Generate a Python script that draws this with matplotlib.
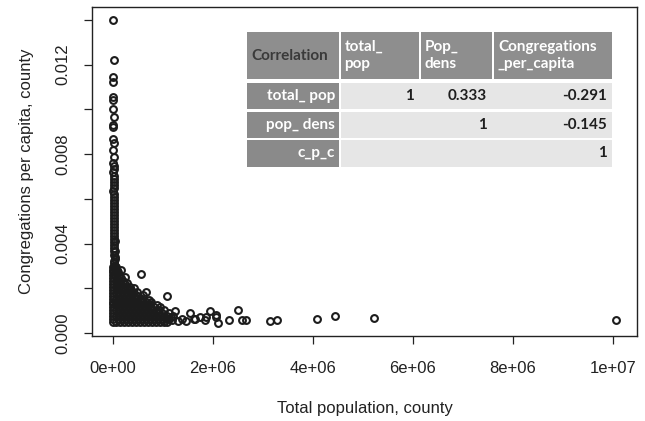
import matplotlib.pyplot as plt
from matplotlib.patches import Rectangle

plt.rcParams['font.family'] = ['Liberation Sans', 'DejaVu Sans']

# population in thousands, congregations per capita
# narrow spike of very small counties
spike_pop = [
    9, 10, 8, 9, 7, 9, 8, 10,
    7, 9, 8, 10, 9, 11, 8, 12,
    10, 9, 13, 11, 10, 14, 12, 9,
    15, 11, 13, 16, 12, 10, 17, 14,
    12, 18, 15, 11, 20, 16, 13, 22,
    18, 14, 25, 20, 16, 30, 22, 18]
spike_cpc = [
    0.01399, 0.01220, 0.01146, 0.01123, 0.01054, 0.01042, 0.01001, 0.00967,
    0.00930, 0.00922, 0.00866, 0.00848, 0.00818, 0.00788, 0.00759, 0.00745,
    0.00731, 0.00718, 0.00704, 0.00690, 0.00677, 0.00663, 0.00650, 0.00636,
    0.00622, 0.00609, 0.00595, 0.00582, 0.00568, 0.00555, 0.00541, 0.00527,
    0.00514, 0.00500, 0.00487, 0.00473, 0.00460, 0.00446, 0.00433, 0.00419,
    0.00405, 0.00392, 0.00378, 0.00365, 0.00351, 0.00338, 0.00324, 0.00311]

# the dense mass of counties, one level of cpc per row
blob_cpc = [0.00050, 0.00063, 0.00076, 0.00089, 0.00102, 0.00115, 0.00128,
            0.00141, 0.00154, 0.00167, 0.00180, 0.00193, 0.00206, 0.00219,
            0.00232, 0.00245, 0.00258, 0.00271, 0.00284, 0.00297]
blob_pop = [
    [3, 55, 130, 210, 290, 370, 450, 530, 610, 690, 770, 850, 930, 1010, 1080],
    [8, 90, 170, 250, 330, 410, 490, 570, 650, 730, 810, 890, 970, 1050, 1110],
    [2, 50, 130, 210, 290, 370, 450, 530, 610, 690, 770, 850, 930, 1010, 1070],
    [6, 90, 170, 250, 330, 410, 490, 570, 650, 730, 810, 890, 970],
    [3, 50, 130, 210, 290, 370, 450, 530, 610, 690, 770, 850, 910],
    [7, 90, 170, 250, 330, 410, 490, 570, 650, 730, 810],
    [2, 50, 130, 210, 290, 370, 450, 530, 610, 690, 740],
    [5, 90, 170, 250, 330, 410, 490, 570, 650],
    [3, 50, 130, 210, 290, 370, 450, 530, 580],
    [6, 90, 170, 250, 330, 410, 490],
    [2, 50, 130, 210, 290, 370, 420],
    [5, 80, 160, 240, 310, 350],
    [3, 50, 120, 190, 270],
    [6, 80, 150, 230],
    [2, 50, 110, 190],
    [5, 70, 150],
    [3, 40, 110],
    [6, 60, 100],
    [2, 40, 85],
    [5, 50],
]

# ragged points around the edge of the mass
edge_pop = [45, 40, 35, 30, 160, 230, 280, 420, 480, 600,
            720, 760, 880, 940, 1020, 1120, 1150, 1180, 1200, 1300]
edge_cpc = [0.00300, 0.00330, 0.00365, 0.00410, 0.00280, 0.00250, 0.00225,
            0.00200, 0.00185, 0.00170, 0.00150, 0.00140, 0.00125, 0.00115,
            0.00105, 0.00090, 0.00070, 0.00058, 0.00078, 0.00052]

# large counties
large_pop = [560, 660, 330, 1070, 1230, 1370, 1460, 1540, 1610, 1640, 1740,
             1840, 1860, 1940, 2070, 2070, 2100, 2330, 2510, 2590, 2660,
             3130, 3270, 4090, 4440, 5230, 10060]
large_cpc = [0.00264, 0.00184, 0.00205, 0.00164, 0.00100, 0.00061, 0.00054,
             0.00091, 0.00061, 0.00063, 0.00073, 0.00058, 0.00072, 0.00100,
             0.00080, 0.00073, 0.00045, 0.00058, 0.00104, 0.00058, 0.00058,
             0.00054, 0.00058, 0.00063, 0.00076, 0.00068, 0.00058]

x_ticks = [0, 2e6, 4e6, 6e6, 8e6, 1e7]
x_labels = ['0e+00', '2e+06', '4e+06', '6e+06', '8e+06', '1e+07']
y_ticks = [0, 0.002, 0.004, 0.006, 0.008, 0.010, 0.012, 0.014]
y_labels = ['0.000', '', '0.004', '', '0.008', '', '0.012', '']

corr_cols = ['Correlation', 'total_\npop', 'Pop_\ndens', 'Congregations\n_per_capita']
corr_rows = ['total_ pop', 'pop_ dens', 'c_p_c']
corr_vals = [[1, 0.333, -0.291],
             [None, 1, -0.145],
             [None, None, 1]]

pop, cpc = [], []
for p, c in zip(spike_pop, spike_cpc):
    pop.append(p * 1000); cpc.append(c)
for c, row in zip(blob_cpc, blob_pop):
    for p in row:
        pop.append(p * 1000); cpc.append(c)
for p, c in zip(edge_pop + large_pop, edge_cpc + large_cpc):
    pop.append(p * 1000); cpc.append(c)

ink = '#222222'
fig = plt.figure(figsize=(6.45, 4.21), dpi=100)
ax = fig.add_axes([92 / 645, 1 - 336 / 421, 545 / 645, 329 / 421])
ax.plot(pop, cpc, ls='none', marker='o', ms=4.9, mfc='none', mec='#1c1c1c', mew=1.5)
ax.set_xlim(-0.42e6, 1.048e7)
ax.set_ylim(-0.00013, 0.01457)
ax.set_xticks(x_ticks)
ax.set_xticklabels(x_labels)
ax.set_yticks(y_ticks)
ax.set_yticklabels(y_labels, rotation=90, va='center')
ax.tick_params(direction='out', length=5.8, width=0.9, labelsize=12,
               colors=ink)
ax.tick_params(axis='x', pad=12)
ax.tick_params(axis='y', pad=10)
for s in ax.spines.values():
    s.set_color(ink)
    s.set_linewidth(1.0)

fig.text(364.5 / 645, 1 - 408 / 421, 'Total population, county', ha='center',
         va='center', fontsize=12, color=ink)
fig.text(27 / 645, 1 - 171 / 421, 'Congregations per capita, county', ha='center',
         va='center', rotation=90, fontsize=12, color=ink)

# correlation table pasted on top of the plot (pixel coords)
ov = fig.add_axes([0, 0, 1, 1])
ov.set_xlim(0, 645)
ov.set_ylim(421, 0)
ov.axis('off')
col_lr = [(246.7, 339), (340.5, 418.5), (420.5, 492), (494, 612)]
head_tb = (31.7, 79.3)
row_tb = [(83.3, 109.3), (111.7, 138.3), (140, 166.7)]
tfont = dict(family=['Lato', 'DejaVu Sans'], fontweight='bold', fontsize=11)

ov.add_patch(Rectangle((244, 29), 371, 140, color='white', lw=0))
for j, (l, r) in enumerate(col_lr):
    ov.add_patch(Rectangle((l, head_tb[0]), r - l, head_tb[1] - head_tb[0],
                           color='#8e8e8e', lw=0))
    if j == 0:
        ov.text(l + 5, sum(head_tb) / 2, corr_cols[j], ha='left', va='center',
                color='#3a3a3a', **tfont)
    else:
        ov.text(l + 4, sum(head_tb) / 2, corr_cols[j], ha='left', va='center',
                color='white', linespacing=1.35, **tfont)

for i, (t, b) in enumerate(row_tb):
    ov.add_patch(Rectangle((col_lr[0][0], t), col_lr[0][1] - col_lr[0][0], b - t,
                           color='#8a8a8a', lw=0))
    ov.add_patch(Rectangle((col_lr[1][0], t), col_lr[3][1] - col_lr[1][0], b - t,
                           color='#e6e6e6', lw=0))
    ov.text(col_lr[0][1] - 4, (t + b) / 2, corr_rows[i], ha='right', va='center',
            color='white', **tfont)
    for j, v in enumerate(corr_vals[i]):
        if v is None:
            continue
        txt = '1' if v == 1 else f'{v:.3f}'
        ov.text(col_lr[j + 1][1] - 5, (t + b) / 2, txt, ha='right', va='center',
                color='#1e1e1e', **tfont)

fig.savefig('out.png', dpi=100, facecolor='white')
